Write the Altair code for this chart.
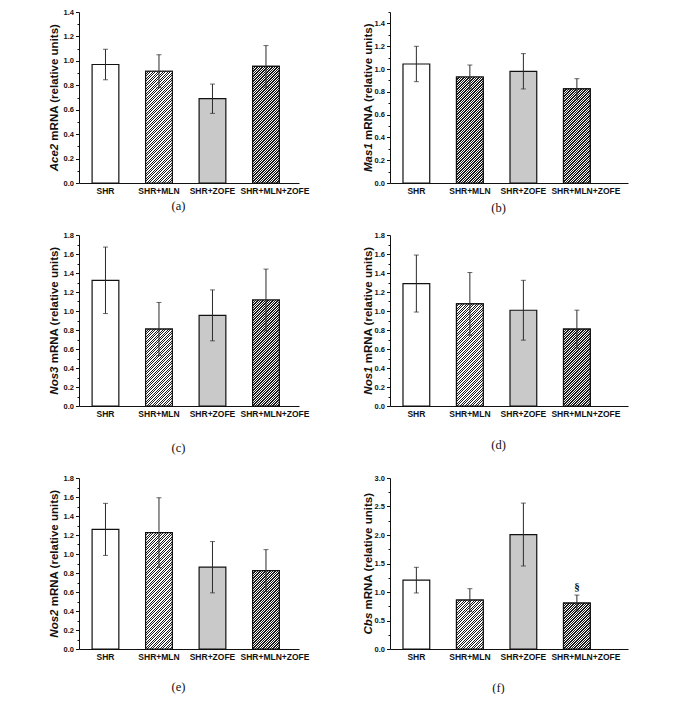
import altair as alt
import pandas as pd

# ---------------- data ----------------
groups = ["SHR", "SHR+MLN", "SHR+ZOFE", "SHR+MLN+ZOFE"]

genes = ["Ace2", "Mas1", "Nos3", "Nos1", "Nos2", "Cbs"]
letters = ["(a)", "(b)", "(c)", "(d)", "(e)", "(f)"]

ace2_mean = [0.97, 0.915, 0.69, 0.955]
ace2_sem = [0.125, 0.135, 0.12, 0.17]
mas1_mean = [1.044, 0.93, 0.98, 0.825]
mas1_sem = [0.155, 0.105, 0.155, 0.09]
nos3_mean = [1.323, 0.81, 0.954, 1.116]
nos3_sem = [0.35, 0.28, 0.268, 0.325]
nos1_mean = [1.289, 1.075, 1.008, 0.809]
nos1_sem = [0.30, 0.33, 0.315, 0.20]
nos2_mean = [1.259, 1.224, 0.861, 0.826]
nos2_sem = [0.274, 0.368, 0.27, 0.22]
cbs_mean = [1.208, 0.858, 2.008, 0.806]
cbs_sem = [0.225, 0.2, 0.552, 0.14]
cbs_marks = ["", "", "", "§"]

all_means = [ace2_mean, mas1_mean, nos3_mean, nos1_mean, nos2_mean, cbs_mean]
all_sems = [ace2_sem, mas1_sem, nos3_sem, nos1_sem, nos2_sem, cbs_sem]
all_marks = [None, None, None, None, None, cbs_marks]

y_max = [1.4, 1.5, 1.8, 1.8, 1.8, 3.0]
y_major = [0.2, 0.2, 0.2, 0.2, 0.2, 0.5]
y_minor = [0.1, 0.1, 0.1, 0.1, 0.1, 0.25]

# ---------------- styling ----------------
FONT = "Liberation Sans, Arial, Helvetica, sans-serif"
SERIF = "Liberation Serif, Times New Roman, serif"
INK = "#111111"
fills = ["#ffffff", "#8c8c8c", "#c9c9c9", "#666666"]
hatch_dark_frac = {"SHR+MLN": 0.42, "SHR+MLN+ZOFE": 0.58}

PLOT_H = 171
PAD_INNER = 0.5
COLS = [
    dict(width=220, po=0.306, align=0.40, tx=-24, letter_x=99),
    dict(width=238, po=0.474, align=0.256, tx=-21, letter_x=108),
]
TITLE_PAD = [5, 7, 24, 21, 20, 21]
TITLE_SIZE = 11.5

# Helvetica-Bold advance widths (per 1000 em)
W_BOLD = {" ": 278, "(": 333, ")": 333, "1": 556, "2": 556,
          "3": 556, "A": 722, "C": 722, "M": 833, "N": 722, "R": 722,
          "a": 556, "b": 611, "c": 556, "e": 556, "i": 278, "l": 278,
          "m": 889, "n": 611, "o": 611, "r": 389, "s": 556, "t": 333,
          "u": 611, "v": 556}


def text_w(s, size):
    return sum(W_BOLD.get(ch, 556) for ch in s) * size / 1000.0


def hatch_gradient(h, w, dark_frac, period=2.5, dark="#1a1a1a", light="#ffffff"):
    r = h / w
    a = (1 + r) / (1 + r * r)
    span = w + h
    n = int(span / period) + 1
    stops = []
    for k in range(n):
        o0 = min(1.0, k * period / span)
        o1 = min(1.0, (k + dark_frac) * period / span)
        o2 = min(1.0, (k + 1) * period / span)
        stops += [alt.GradientStop(color=dark, offset=o0),
                  alt.GradientStop(color=dark, offset=o1),
                  alt.GradientStop(color=light, offset=o1),
                  alt.GradientStop(color=light, offset=o2)]
    return alt.LinearGradient(gradient="linear", x1=0, y1=0, x2=a, y2=a * r,
                              stops=stops)


def panel(i):
    col = COLS[i % 2]
    W = col["width"]
    mean = all_means[i]
    sem = all_sems[i]
    ymax = y_max[i]
    major = y_major[i]
    minor = y_minor[i]
    df = pd.DataFrame({
        "group": groups,
        "mean": mean,
        "lo": [m - s for m, s in zip(mean, sem)],
        "hi": [m + s for m, s in zip(mean, sem)],
    })
    n_ticks = int(round(ymax / minor))
    tick_vals = [round(k * minor, 3) for k in range(n_ticks + 1)]
    test = f"abs(datum.value / {major} - round(datum.value / {major})) < 0.001"

    xscale = alt.Scale(domain=groups, paddingInner=PAD_INNER,
                       paddingOuter=col["po"], align=col["align"])
    xaxis = alt.Axis(title=letters[i], ticks=False, labelAngle=0,
                     labelFont=FONT, labelFontSize=8.5, labelFontWeight="bold",
                     labelColor=INK, labelPadding=3, domainColor=INK,
                     domainWidth=1,
                     labelOffset={"condition": {"test": "datum.value == 'SHR+MLN+ZOFE'",
                                                "value": 9}, "value": 0},
                     titleFont=SERIF, titleFontSize=12.5,
                     titleFontWeight="normal", titleColor=INK,
                     titlePadding=TITLE_PAD[i], titleX=col["letter_x"],
                     titleAlign="center")
    yaxis = alt.Axis(values=tick_vals, title=None, grid=False,
                     labelExpr=f"{test} ? format(datum.value, '.1f') : ''",
                     tickSize={"condition": {"test": test, "value": 3.5}, "value": 2},
                     tickColor=INK, tickWidth=1, domainColor=INK, domainWidth=1,
                     labelFont=FONT, labelFontSize=7.5, labelFontWeight="bold",
                     labelColor=INK, labelPadding=2, labelOverlap=False,
                     labelFlush=False, labelBound=False)
    yscale = alt.Scale(domain=[0, ymax], nice=False, zero=True)

    def X():
        return alt.X("group:N", sort=groups, scale=xscale, axis=xaxis)

    def Y(field):
        return alt.Y(f"{field}:Q", scale=yscale, axis=yaxis)

    base = alt.Chart(df)
    bars = base.mark_bar(stroke=INK, strokeWidth=1.2).encode(
        x=X(),
        y=Y("mean"),
        fill=alt.Fill("group:N", scale=alt.Scale(domain=groups, range=fills),
                      legend=None),
    )
    layers = [bars]

    step = W / (len(groups) - PAD_INNER + 2 * col["po"])
    bw = step * (1 - PAD_INNER)
    for g, frac in hatch_dark_frac.items():
        m = mean[groups.index(g)]
        h = m / ymax * PLOT_H
        grad = hatch_gradient(h, bw, frac)
        layers.append(
            base.transform_filter(alt.datum.group == g)
            .mark_bar(fill=grad, stroke=INK, strokeWidth=1.2)
            .encode(x=X(), y=Y("mean"))
        )

    layers.append(base.mark_rule(color="#2a2a2a", strokeWidth=1).encode(
        x=X(), y=Y("lo"), y2="hi:Q"))
    for fld in ["lo", "hi"]:
        layers.append(base.mark_tick(color="#2a2a2a", size=5, thickness=1).encode(
            x=X(), y=Y(fld)))

    if all_marks[i] is not None:
        mdf = pd.DataFrame({"group": groups,
                            "hi": df["hi"], "mark": all_marks[i]})
        mdf = mdf[mdf["mark"] != ""]
        layers.append(alt.Chart(mdf).mark_text(
            font=SERIF, fontSize=11, fontWeight="bold", color=INK,
            baseline="bottom", dy=-3).encode(
            x=X(), y=Y("hi"), text="mark:N"))

    # y-axis title: italic gene name + upright remainder, rotated
    gene = genes[i]
    rest = "mRNA (relative units)"
    gap = text_w(" ", TITLE_SIZE)
    total = text_w(gene, TITLE_SIZE) + gap + text_w(rest, TITLE_SIZE)
    bottom = PLOT_H / 2 + total / 2
    gene_top = bottom - text_w(gene, TITLE_SIZE)
    rest_bottom = gene_top - gap
    layers.append(alt.Chart(pd.DataFrame({"t": [gene]})).mark_text(
        angle=270, align="right", baseline="middle", font=FONT,
        fontSize=TITLE_SIZE, fontWeight="bold", fontStyle="italic", color=INK
    ).encode(x=alt.value(col["tx"]), y=alt.value(gene_top), text="t:N"))
    layers.append(alt.Chart(pd.DataFrame({"t": [rest]})).mark_text(
        angle=270, align="left", baseline="middle", font=FONT,
        fontSize=TITLE_SIZE, fontWeight="bold", color=INK
    ).encode(x=alt.value(col["tx"]), y=alt.value(rest_bottom), text="t:N"))

    return alt.layer(*layers).properties(width=W, height=PLOT_H)


row1 = alt.hconcat(panel(0), panel(1), spacing=91, bounds="flush")
row2 = alt.hconcat(panel(2), panel(3), spacing=91, bounds="flush")
row3 = alt.hconcat(panel(4), panel(5), spacing=91, bounds="flush")

chart = alt.vconcat(row1, alt.vconcat(row2, row3, spacing=20), spacing=17).properties(
    padding={"left": 40, "top": 0, "right": 4, "bottom": 0},
    background="white",
).configure_view(stroke=None)

chart.save("out.html", embed_options={"renderer": "svg", "actions": False})
